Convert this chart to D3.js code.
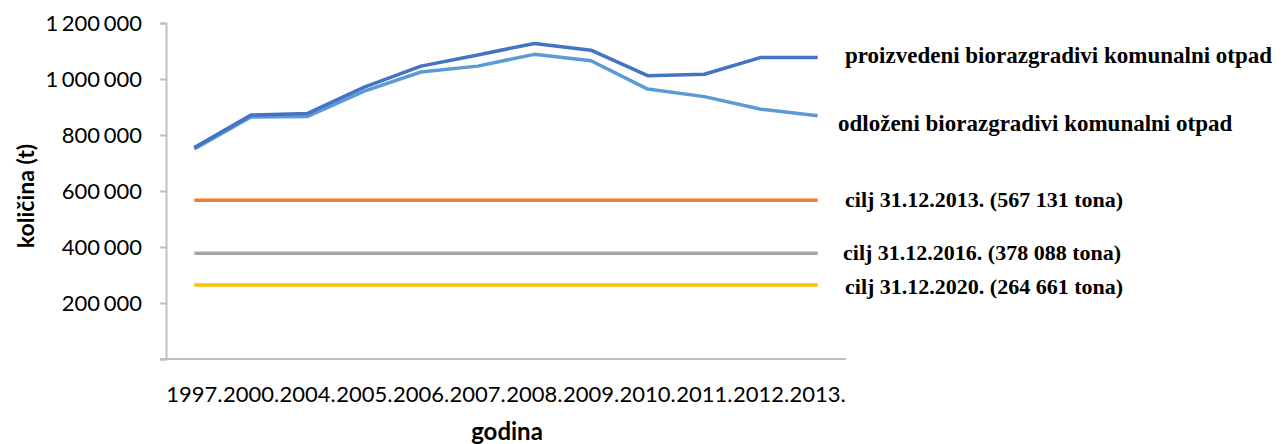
<!DOCTYPE html>
<html>
<head>
<meta charset="utf-8">
<script src="https://cdn.jsdelivr.net/npm/d3@7"></script>
<style>
    body { margin: 0; background: #fff; }
</style>
</head>
<body>
<div id="chart"></div>
<script>
const years = ["1997.", "2000.", "2004.", "2005.", "2006.", "2007.", "2008.", "2009.", "2010.", "2011.", "2012.", "2013."];
const proizvedeni = [755000, 871000, 877000, 971000, 1046000, 1086000, 1127000, 1103000, 1012000, 1017000, 1077000, 1077000];
const odlozeni = [750000, 864000, 866000, 957000, 1025000, 1046000, 1088000, 1065000, 964000, 937000, 892000, 869000];
const targetValues = [567131, 378088, 264661];
const targetLabels = ["cilj 31.12.2013. (567 131 tona)", "cilj 31.12.2016. (378 088 tona)", "cilj 31.12.2020. (264 661 tona)"];
const yTicks = [200000, 400000, 600000, 800000, 1000000, 1200000];

const WIDTH = 1283, HEIGHT = 444;
const MARGINS = {left: 166, top: 23, right: 437, bottom: 85};
const SANS = "Lato, 'Open Sans', sans-serif";
const SERIF = "'Liberation Serif', 'DejaVu Serif', serif";

let svg = d3.select("#chart")
    .append("svg")
    .attr("width", WIDTH)
    .attr("height", HEIGHT);

let x = d3.scaleBand()
    .domain(years)
    .range([MARGINS.left, WIDTH - MARGINS.right]);

let y = d3.scaleLinear()
    .domain([0, 1200000])
    .range([HEIGHT - MARGINS.bottom, MARGINS.top]);

let fmt = v => d3.format(",")(v).replace(/,/g, " ");

// y axis
let yAxis = svg.append("g")
    .attr("transform", "translate(" + MARGINS.left + ",0)")
    .call(d3.axisLeft(y).tickValues([0].concat(yTicks)).tickSize(6).tickPadding(18)
        .tickFormat(d => d === 0 ? "" : fmt(d)));
yAxis.select(".domain").attr("stroke", "#bfbfbf").attr("stroke-width", 2);
yAxis.selectAll(".tick line").attr("stroke", "#bfbfbf").attr("stroke-width", 2);
yAxis.selectAll(".tick text")
    .style("font-family", SANS)
    .style("font-size", "22px")
    .style("word-spacing", "-2px")
    .attr("fill", "#000");

// x axis
let xAxis = svg.append("g")
    .attr("transform", "translate(0," + (HEIGHT - MARGINS.bottom) + ")")
    .call(d3.axisBottom(x).tickSize(0).tickPadding(27));
xAxis.select(".domain").attr("stroke", "#bfbfbf").attr("stroke-width", 2)
    .attr("d", "M" + (MARGINS.left - 6) + ",0H" + (WIDTH - MARGINS.right));
xAxis.selectAll(".tick text")
    .style("font-family", SANS)
    .style("font-size", "22px")
    .attr("fill", "#000");

// axis titles
svg.append("text")
    .attr("transform", "translate(34,196) rotate(-90)")
    .style("text-anchor", "middle")
    .style("font-family", SANS)
    .style("font-size", "23px")
    .style("font-weight", "bold")
    .text("količina (t)");

svg.append("text")
    .attr("x", 507)
    .attr("y", 440)
    .style("text-anchor", "middle")
    .style("font-family", SANS)
    .style("font-size", "24px")
    .style("font-weight", "bold")
    .text("godina");

let cx = d => x(d) + x.bandwidth() / 2;
let line = d3.line()
    .x((d, i) => cx(years[i]))
    .y(d => y(d));

// target lines
const targetColors = ["#ED7D31", "#A5A5A5", "#FFC000"];
targetValues.forEach((v, i) => {
    svg.append("path")
        .datum(years.map(() => v))
        .attr("fill", "none")
        .attr("stroke", targetColors[i])
        .attr("stroke-width", 3.5)
        .attr("d", line);
});

// series lines
svg.append("path")
    .datum(odlozeni)
    .attr("fill", "none")
    .attr("stroke", "#5B9BD5")
    .attr("stroke-width", 3.5)
    .attr("stroke-linejoin", "round")
    .attr("d", line);

svg.append("path")
    .datum(proizvedeni)
    .attr("fill", "none")
    .attr("stroke", "#4472C4")
    .attr("stroke-width", 3.5)
    .attr("stroke-linejoin", "round")
    .attr("d", line);

// labels
function label(xPos, yPos, text, size) {
    svg.append("text")
        .attr("x", xPos)
        .attr("y", yPos)
        .style("font-family", SERIF)
        .style("font-size", size + "px")
        .style("font-weight", "bold")
        .attr("fill", "#000")
        .text(text);
}

label(845, 63, "proizvedeni biorazgradivi komunalni otpad", 23);
label(838, 131, "odloženi biorazgradivi komunalni otpad", 23);
label(845, 207, targetLabels[0], 22);
label(843, 260, targetLabels[1], 22);
label(845, 294, targetLabels[2], 22);
</script>
</body>
</html>
